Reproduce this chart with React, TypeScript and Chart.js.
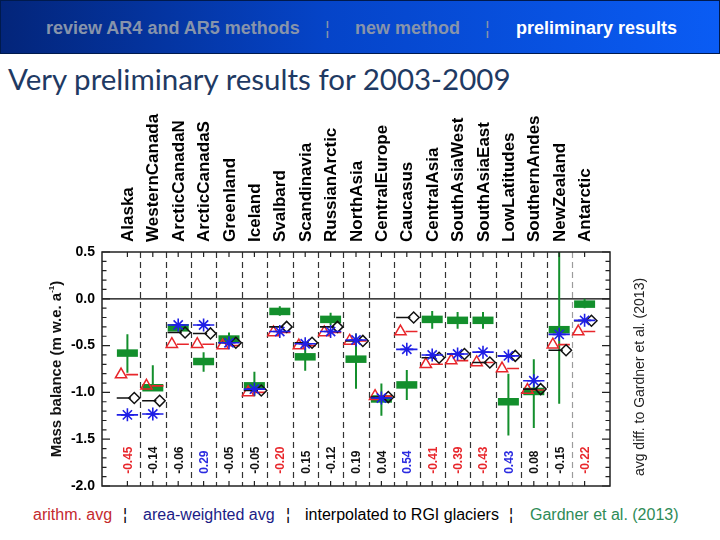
import React, { useEffect, useRef } from 'react';
import { Chart, registerables } from 'chart.js';

Chart.register(...registerables);

// ---------------- data ----------------
const categories = [
  'Alaska', 'WesternCanada', 'ArcticCanadaN', 'ArcticCanadaS', 'Greenland', 'Iceland',
  'Svalbard', 'Scandinavia', 'RussianArctic', 'NorthAsia', 'CentralEurope', 'Caucasus',
  'CentralAsia', 'SouthAsiaWest', 'SouthAsiaEast', 'LowLatitudes', 'SouthernAndes',
  'NewZealand', 'Antarctic',
];
const arithAvg = [-0.81, -0.93, -0.485, -0.485, -0.5, -1.0, -0.36, -0.5, -0.36, -0.45, -1.04, -0.35, -0.7, -0.66, -0.68, -0.745, -0.975, -0.49, -0.35];
const areaWeighted = [-1.24, -1.23, -0.28, -0.28, -0.47, -0.965, -0.35, -0.48, -0.35, -0.44, -1.06, -0.54, -0.6, -0.59, -0.57, -0.61, -0.875, -0.38, -0.23];
const interpolated = [-1.06, -1.09, -0.36, -0.37, -0.47, -0.98, -0.3, -0.47, -0.3, -0.45, -1.05, -0.2, -0.63, -0.59, -0.68, -0.61, -0.965, -0.55, -0.235];
const gardner = [-0.58, -0.95, -0.31, -0.67, -0.43, -0.93, -0.135, -0.62, -0.22, -0.645, -1.07, -0.92, -0.22, -0.23, -0.23, -1.1, -0.99, -0.33, -0.057];
const gardnerLow = [-0.79, -0.98, -0.35, -0.78, -0.5, -1.04, -0.18, -0.77, -0.28, -0.96, -1.25, -1.08, -0.32, -0.32, -0.32, -1.46, -1.38, -1.12, -0.1];
const gardnerHigh = [-0.38, -0.71, -0.27, -0.57, -0.36, -0.78, -0.08, -0.52, -0.15, -0.37, -0.905, -0.76, -0.13, -0.14, -0.14, -0.8, -0.645, 0.5, 0.0];
const avgDiff = [-0.45, -0.14, -0.06, 0.29, -0.05, -0.05, -0.2, 0.15, -0.12, 0.19, 0.04, 0.54, -0.41, -0.39, -0.43, 0.43, 0.08, -0.15, -0.22];
const avgDiffMethod = ['arith', 'interp', 'interp', 'area', 'interp', 'interp', 'arith', 'interp', 'interp', 'interp', 'interp', 'area', 'arith', 'arith', 'arith', 'area', 'interp', 'interp', 'arith'];
const yMin = -2.0;
const yMax = 0.5;
const yStep = 0.5;
const diffLabelAt = -1.87;

// ---------------- styles ----------------
const RED = '#e8262b';
const BLUE = '#1f1fe6';
const BLACK = '#111111';
const GREEN = '#138f2c';
const FONT = '"Liberation Sans", Arial, sans-serif';
const methodColor: Record<string, string> = { arith: RED, area: '#2a2ae0', interp: BLACK };

const pts = (vals: number[], dx: number) => vals.map((v, i) => ({ x: i + 1 + dx, y: v }));
const seg = (vals: number[], x0: number, x1: number) =>
  vals.flatMap((v, i) => [
    { x: i + 1 + x0, y: v },
    { x: i + 1 + x1, y: v },
    { x: i + 1, y: null as any },
  ]);
const bars = (lo: number[], hi: number[]) =>
  lo.flatMap((v, i) => [
    { x: i + 1, y: v },
    { x: i + 1, y: hi[i] },
    { x: i + 1, y: null as any },
  ]);

const decor = {
  id: 'decor',
  beforeDatasetsDraw(chart: any) {
    const { ctx, chartArea: a, scales } = chart;
    const x = scales.x;
    const y = scales.y;
    ctx.save();
    ctx.lineWidth = 1.2;
    ctx.setLineDash([6, 4]);
    for (let i = 1; i < categories.length; i++) {
      const px = Math.round(x.getPixelForValue(i + 0.5)) + 0.5;
      ctx.strokeStyle = i === categories.length - 1 ? '#9c9c9c' : '#333333';
      ctx.beginPath();
      ctx.moveTo(px, a.top);
      ctx.lineTo(px, a.bottom);
      ctx.stroke();
    }
    ctx.setLineDash([]);
    ctx.strokeStyle = '#000';
    ctx.lineWidth = 1.2;
    const zy = y.getPixelForValue(0);
    ctx.beginPath();
    ctx.moveTo(a.left, zy);
    ctx.lineTo(a.right, zy);
    ctx.stroke();
    ctx.restore();
  },
  afterDatasetsDraw(chart: any) {
    const { ctx, chartArea: a, scales } = chart;
    const x = scales.x;
    const y = scales.y;
    ctx.save();
    // frame
    ctx.strokeStyle = '#222';
    ctx.lineWidth = 1.5;
    ctx.strokeRect(a.left, a.top, a.right - a.left, a.bottom - a.top);
    // y ticks (inward), both sides
    ctx.lineWidth = 1.2;
    const n = Math.round((yMax - yMin) / 0.1);
    for (let k = 0; k <= n; k++) {
      const v = yMin + k * 0.1;
      const major = k % 5 === 0;
      const len = major ? 8 : 4.5;
      const py = y.getPixelForValue(v);
      ctx.beginPath();
      ctx.moveTo(a.left, py);
      ctx.lineTo(a.left + len, py);
      ctx.moveTo(a.right, py);
      ctx.lineTo(a.right - len, py);
      ctx.stroke();
    }
    // x ticks (inward) top and bottom
    for (let i = 1; i <= categories.length; i++) {
      const px = x.getPixelForValue(i);
      ctx.beginPath();
      ctx.moveTo(px, a.top);
      ctx.lineTo(px, a.top + 5);
      ctx.moveTo(px, a.bottom);
      ctx.lineTo(px, a.bottom - 5);
      ctx.stroke();
    }
    // category labels (rotated, above plot)
    ctx.font = `bold 17px ${FONT}`;
    ctx.fillStyle = '#000';
    ctx.textAlign = 'left';
    ctx.textBaseline = 'middle';
    categories.forEach((c, i) => {
      const px = x.getPixelForValue(i + 1);
      ctx.save();
      ctx.translate(px + 1, a.top - 10);
      ctx.rotate(-Math.PI / 2);
      ctx.fillText(c, 0, 0);
      ctx.restore();
    });
    // rotated diff labels
    ctx.font = `bold 12px ${FONT}`;
    avgDiff.forEach((v, i) => {
      const px = x.getPixelForValue(i + 1);
      const py = y.getPixelForValue(diffLabelAt);
      ctx.save();
      ctx.translate(px + 1, py);
      ctx.rotate(-Math.PI / 2);
      ctx.fillStyle = methodColor[avgDiffMethod[i]];
      ctx.fillText(v.toFixed(2), 0, 0);
      ctx.restore();
    });
    // left title with superscript
    const cy = (a.top + a.bottom) / 2;
    ctx.save();
    ctx.translate(57, cy);
    ctx.rotate(-Math.PI / 2);
    ctx.fillStyle = '#111';
    ctx.textBaseline = 'middle';
    ctx.textAlign = 'left';
    const mainFont = `bold 15px ${FONT}`;
    const supFont = `bold 8px ${FONT}`;
    const t1 = 'Mass balance (m w.e. a';
    const t2 = '-1';
    const t3 = ')';
    ctx.font = mainFont;
    const w1 = ctx.measureText(t1).width;
    const w3 = ctx.measureText(t3).width;
    ctx.font = supFont;
    const w2 = ctx.measureText(t2).width;
    let sx = -(w1 + w2 + w3) / 2;
    ctx.font = mainFont;
    ctx.fillText(t1, sx, 0);
    sx += w1;
    ctx.font = supFont;
    ctx.fillText(t2, sx, -5);
    sx += w2;
    ctx.font = mainFont;
    ctx.fillText(t3, sx, 0);
    ctx.restore();
    // right title
    ctx.save();
    ctx.translate(640, cy + 8);
    ctx.rotate(-Math.PI / 2);
    ctx.fillStyle = '#222';
    ctx.font = `14px ${FONT}`;
    ctx.textAlign = 'center';
    ctx.textBaseline = 'middle';
    ctx.fillText('avg diff. to Gardner et al. (2013)', 0, 0);
    ctx.restore();
    ctx.restore();
  },
};

function ChartBox() {
  const ref = useRef<HTMLCanvasElement | null>(null);
  useEffect(() => {
    if (!ref.current) return;
    const lineDs = (data: any[], color: string, order: number, width = 1.6) => ({
      type: 'scatter' as const,
      data,
      showLine: true,
      spanGaps: false,
      borderColor: color,
      borderWidth: width,
      pointRadius: 0,
      order,
    });
    const chart = new Chart(ref.current, {
      type: 'scatter',
      data: {
        datasets: [
          {
            data: pts(areaWeighted, 0),
            pointStyle: 'star',
            pointRadius: 6.5,
            pointBorderColor: BLUE,
            pointBackgroundColor: 'transparent',
            pointBorderWidth: 1.6,
            order: 1,
          } as any,
          lineDs(seg(areaWeighted, -0.42, 0.42), BLUE, 1),
          {
            data: pts(interpolated, 0.27),
            pointStyle: 'rectRot',
            pointRadius: 5.5,
            pointBorderColor: BLACK,
            pointBackgroundColor: 'transparent',
            pointBorderWidth: 1.5,
            order: 2,
          } as any,
          lineDs(seg(interpolated, -0.42, 0.14), BLACK, 2),
          {
            data: pts(arithAvg, -0.25),
            pointStyle: 'triangle',
            pointRadius: 6.5,
            pointBorderColor: RED,
            pointBackgroundColor: 'transparent',
            pointBorderWidth: 1.5,
            order: 3,
          } as any,
          lineDs(seg(arithAvg, -0.05, 0.42), RED, 3),
          {
            data: pts(gardner, 0),
            pointStyle: 'line',
            pointRadius: 10.5,
            pointBorderColor: GREEN,
            pointBorderWidth: 7.5,
            order: 4,
          } as any,
          lineDs(bars(gardnerLow, gardnerHigh), GREEN, 5, 2),
        ],
      },
      options: {
        responsive: false,
        animation: false,
        events: [],
        layout: { padding: 0 },
        plugins: { legend: { display: false }, tooltip: { enabled: false } },
        scales: {
          x: {
            type: 'linear',
            position: 'bottom',
            min: 0,
            max: categories.length + 1,
            ticks: { display: false },
            grid: { display: false, drawTicks: false },
            border: { display: false },
            afterFit: (s: any) => { s.height = 14; },
          },
          xTop: {
            type: 'linear',
            position: 'top',
            min: 0,
            max: categories.length + 1,
            ticks: { display: false },
            grid: { display: false, drawTicks: false },
            border: { display: false },
            afterFit: (s: any) => { s.height = 152; },
          },
          y: {
            type: 'linear',
            position: 'left',
            min: yMin,
            max: yMax,
            ticks: {
              stepSize: yStep,
              padding: 7,
              color: '#000',
              font: { family: FONT, size: 14, weight: 'bold' },
              callback: (v: any) => Number(v).toFixed(1),
            },
            grid: { display: false, drawTicks: false },
            border: { display: false },
            afterFit: (s: any) => { s.width = 102; },
          },
          yRight: {
            type: 'linear',
            position: 'right',
            min: yMin,
            max: yMax,
            ticks: { display: false },
            grid: { display: false, drawTicks: false },
            border: { display: false },
            afterFit: (s: any) => { s.width = 110; },
          },
        },
      } as any,
      plugins: [decor],
    });
    return () => chart.destroy();
  }, []);
  return (
    <canvas
      ref={ref}
      width={720}
      height={404}
      style={{ position: 'absolute', left: 0, top: 100, width: 720, height: 404 }}
    />
  );
}

export default function App() {
  const hdr: React.CSSProperties = {
    position: 'absolute',
    top: 18,
    fontFamily: FONT,
    fontWeight: 'bold',
    fontSize: 18,
    lineHeight: '18px',
    whiteSpace: 'nowrap',
  };
  const ft: React.CSSProperties = {
    position: 'absolute',
    top: 507,
    fontFamily: FONT,
    fontSize: 16,
    lineHeight: '16px',
    whiteSpace: 'nowrap',
  };
  return (
    <div style={{ position: 'fixed', left: 0, top: 0, width: 720, height: 540, background: '#fff', overflow: 'hidden' }}>
      <div
        style={{
          position: 'absolute', left: 0, top: 0, width: 718, height: 52,
          background: 'linear-gradient(to right, #03257a 0%, #0544c8 45%, #0a5cf4 100%)',
          border: '1px solid #001a4d',
        }}
      >
        <span style={{ ...hdr, left: 45, color: '#8794ab' }}>review AR4 and AR5 methods</span>
        <span style={{ ...hdr, left: 324, color: '#8794ab', fontWeight: 'normal' }}>¦</span>
        <span style={{ ...hdr, left: 354, color: '#8794ab' }}>new method</span>
        <span style={{ ...hdr, left: 484, color: '#8794ab', fontWeight: 'normal' }}>¦</span>
        <span style={{ ...hdr, left: 515, color: '#ffffff' }}>preliminary results</span>
      </div>
      <div
        style={{
          position: 'absolute', left: 8, top: 64, fontFamily: 'Lato, "Open Sans", sans-serif',
          fontSize: 29.5, lineHeight: '29.5px', color: '#1f3a63', whiteSpace: 'nowrap',
        }}
      >
        Very preliminary results for 2003-2009
      </div>
      <ChartBox />
      <span style={{ ...ft, left: 33, color: '#c42a2e' }}>arithm. avg</span>
      <span style={{ ...ft, left: 123, color: '#000' }}>¦</span>
      <span style={{ ...ft, left: 143, color: '#1c1c86' }}>area-weighted avg</span>
      <span style={{ ...ft, left: 286, color: '#000' }}>¦</span>
      <span style={{ ...ft, left: 305, color: '#000' }}>interpolated to RGI glaciers</span>
      <span style={{ ...ft, left: 509, color: '#000' }}>¦</span>
      <span style={{ ...ft, left: 530, color: '#2e8b57' }}>Gardner et al. (2013)</span>
    </div>
  );
}
